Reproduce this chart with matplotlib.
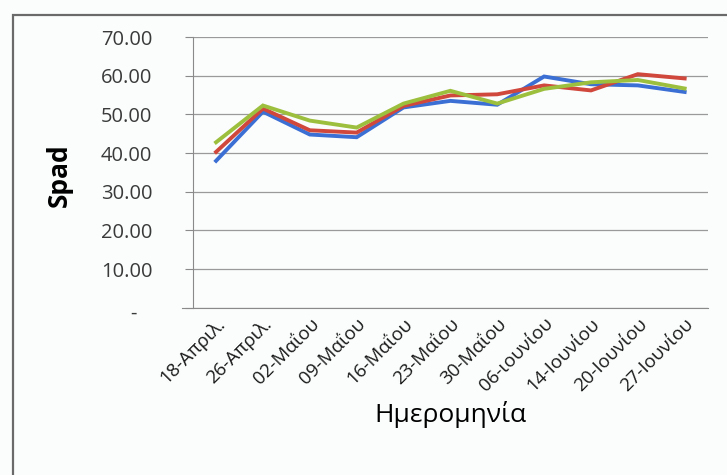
import matplotlib.pyplot as plt
from matplotlib.patches import Rectangle
from matplotlib.transforms import ScaledTranslation

dates = ['18-Απριλ.', '26-Απριλ.', '02-Μαΐου', '09-Μαΐου', '16-Μαΐου', '23-Μαΐου',
         '30-Μαΐου', '06-ιουνίου', '14-Ιουνίου', '20-Ιουνίου', '27-Ιουνίου']
blue = [38.0, 50.7, 44.8, 44.1, 51.8, 53.5, 52.5, 59.8, 57.8, 57.5, 55.8]
red = [40.3, 51.5, 45.9, 45.3, 52.2, 54.9, 55.2, 57.5, 56.2, 60.4, 59.3]
green = [42.8, 52.3, 48.4, 46.6, 52.8, 56.1, 52.8, 56.6, 58.3, 58.9, 56.7]
yticks = [0, 10, 20, 30, 40, 50, 60, 70]

plt.rcParams['font.family'] = ['Open Sans', 'DejaVu Sans']

fig = plt.figure(figsize=(7.27, 4.75), dpi=100, facecolor='#fbfdfd')
ax = fig.add_axes([0.265, 0.352, 0.709, 0.570])
ax.set_facecolor('none')

# chart border, runs past the right and bottom edges
fig.patches.append(Rectangle((13 / 727, -0.1), 1.0, 1 - 15 / 475 + 0.1,
                             transform=fig.transFigure, fill=False,
                             ec='#6a6a6a', lw=1.6))

x = range(len(dates))
ax.plot(x, blue, color='#3b6fd4', lw=2.8, solid_joinstyle='miter')
ax.plot(x, red, color='#d0473c', lw=2.8, solid_joinstyle='miter')
ax.plot(x, green, color='#9dbf3e', lw=2.8, solid_joinstyle='miter')

ax.set_xlim(-0.5, len(dates) - 0.5)
ax.set_ylim(0, 70)
ax.set_yticks(yticks)
ax.set_yticklabels(['-'] + ['%.2f' % v for v in yticks[1:]])
ax.yaxis.grid(True, color='#9a9a9a', lw=0.9)
ax.set_axisbelow(True)

for side in ['top', 'right']:
    ax.spines[side].set_visible(False)
ax.spines['left'].set_color('#8a8a8a')
ax.spines['bottom'].set_color('#8a8a8a')
ax.spines['bottom'].set_bounds(-0.72, len(dates) - 0.5)

ax.tick_params(axis='y', length=6, color='#8a8a8a', pad=23, labelsize=14.5,
               labelcolor='#3a3a3a')
# dash for zero sits a little left of the numbers
zero = ax.get_yticklabels()[0]
zero.set_transform(zero.get_transform() + ScaledTranslation(-0.16, -0.03, fig.dpi_scale_trans))

ax.set_xticks(list(x))
ax.set_xticklabels(dates, rotation=45, ha='right', rotation_mode='anchor',
                   fontsize=13.5, color='#1a1a1a')
ax.tick_params(axis='x', length=0, pad=5)

ax.set_ylabel('Spad', fontsize=19, fontweight='bold')
ax.yaxis.set_label_coords(-0.232, 0.49)
ax.set_xlabel('Ημερομηνία', fontsize=19, labelpad=4)

fig.savefig('out.png', dpi=100, facecolor=fig.get_facecolor())
